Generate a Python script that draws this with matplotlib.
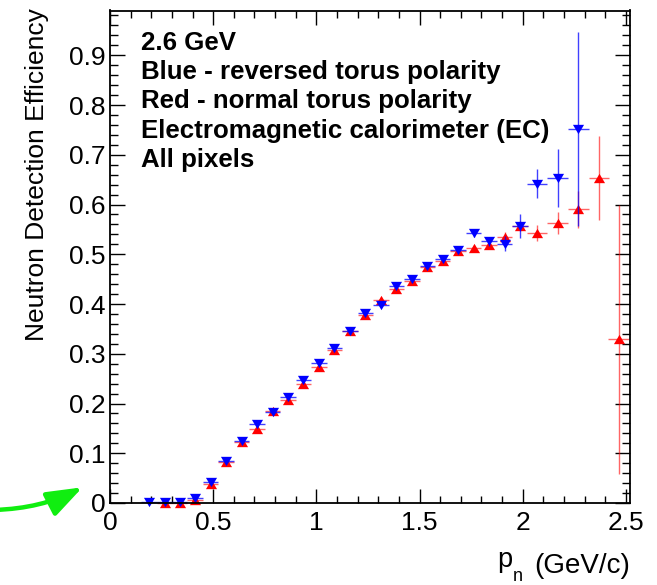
import numpy as np
import matplotlib
matplotlib.use("Agg")
import matplotlib.pyplot as plt
from matplotlib.path import Path
from matplotlib.patches import FancyArrowPatch, ArrowStyle
from matplotlib.ticker import MultipleLocator, FixedLocator

plt.rcParams["font.family"] = ["Liberation Sans", "DejaVu Sans"]

# Neutron momentum (GeV/c) of each point
p_blue = [0.19, 0.265, 0.3375, 0.4125, 0.4875, 0.5625, 0.6375, 0.7125, 0.7875,
          0.8625, 0.9375, 1.0125, 1.0875, 1.1625, 1.2375, 1.3125, 1.3875, 1.4625,
          1.5375, 1.6125, 1.6875, 1.7625, 1.8375, 1.9125, 1.9875, 2.07, 2.17, 2.27]
p_red = [0.265, 0.3375, 0.4125, 0.4875, 0.5625, 0.6375, 0.7125, 0.7875,
         0.8625, 0.9375, 1.0125, 1.0875, 1.1625, 1.2375, 1.3125, 1.3875, 1.4625,
         1.5375, 1.6125, 1.6875, 1.7625, 1.8375, 1.9125, 1.9875, 2.07, 2.17, 2.27,
         2.37, 2.465]

# Efficiency, reversed torus polarity (blue)
eff_blue = [0.002, 0.002, 0.002, 0.011, 0.043, 0.085, 0.125, 0.159, 0.183,
            0.213, 0.247, 0.281, 0.311, 0.345, 0.382, 0.399, 0.436, 0.450,
            0.477, 0.491, 0.509, 0.542, 0.526, 0.521, 0.556, 0.642, 0.654, 0.751]
err_blue = [0.002, 0.002, 0.002, 0.003, 0.004, 0.005, 0.005, 0.005, 0.005,
            0.005, 0.005, 0.005, 0.005, 0.005, 0.005, 0.005, 0.005, 0.006,
            0.006, 0.006, 0.007, 0.008, 0.009, 0.015, 0.024, 0.029, 0.058, 0.195]
bin_half_blue = [0.0375] * 25 + [0.05] * 3

# Efficiency, normal torus polarity (red)
eff_red = [0.0, 0.0, 0.006, 0.038, 0.083, 0.122, 0.148, 0.185,
           0.208, 0.240, 0.274, 0.307, 0.346, 0.378, 0.409, 0.431, 0.446,
           0.475, 0.487, 0.507, 0.512, 0.519, 0.535, 0.557, 0.543, 0.563, 0.590,
           0.653, 0.329]
err_red = [0.002, 0.002, 0.003, 0.004, 0.005, 0.005, 0.005, 0.005,
           0.005, 0.005, 0.005, 0.005, 0.005, 0.005, 0.005, 0.005, 0.006,
           0.006, 0.006, 0.007, 0.007, 0.008, 0.009, 0.010, 0.016, 0.022, 0.037,
           0.084, 0.270]
bin_half_red = [0.0375] * 24 + [0.05] * 5

x_ticks = [0, 0.5, 1, 1.5, 2, 2.5]
x_tick_labels = ["0", "0.5", "1", "1.5", "2", "2.5"]
y_ticks = [0, 0.1, 0.2, 0.3, 0.4, 0.5, 0.6, 0.7, 0.8, 0.9]
y_tick_labels = ["0", "0.1", "0.2", "0.3", "0.4", "0.5", "0.6", "0.7", "0.8", "0.9"]

notes = ["2.6 GeV",
         "Blue - reversed torus polarity",
         "Red - normal torus polarity",
         "Electromagnetic calorimeter (EC)",
         "All pixels"]

W, H = 657, 585
fig = plt.figure(figsize=(W / 100, H / 100), dpi=100)
ax = fig.add_axes([110 / W, 1 - 503 / H, 520 / W, 492.5 / H])
ax.set_xlim(0, 2.52)
ax.set_ylim(0, 0.99)

# triangle markers, slightly flattened
tri_up = Path([(-1, -0.84), (1, -0.84), (0, 0.84), (-1, -0.84)],
              [Path.MOVETO, Path.LINETO, Path.LINETO, Path.CLOSEPOLY])
tri_dn = Path([(-1, 0.84), (1, 0.84), (0, -0.84), (-1, 0.84)],
              [Path.MOVETO, Path.LINETO, Path.LINETO, Path.CLOSEPOLY])

red = "#ff0000"
blue = "#0000ff"

ax.errorbar(p_red, eff_red, xerr=bin_half_red, yerr=err_red, fmt="none",
            ecolor=red, elinewidth=1.0, alpha=0.6, capsize=0, clip_on=False)
ax.plot(p_red, eff_red, linestyle="none", marker=tri_up, markersize=8,
        color=red, markeredgewidth=0, clip_on=False)
ax.errorbar(p_blue, eff_blue, xerr=bin_half_blue, yerr=err_blue, fmt="none",
            ecolor=blue, elinewidth=1.0, alpha=0.75, capsize=0, clip_on=False)
ax.plot(p_blue, eff_blue, linestyle="none", marker=tri_dn, markersize=8,
        color=blue, markeredgewidth=0, clip_on=False)

for s in ax.spines.values():
    s.set_linewidth(1.3)

ax.xaxis.set_major_locator(FixedLocator(x_ticks))
ax.set_xticklabels(x_tick_labels)
ax.xaxis.set_minor_locator(MultipleLocator(0.1))
ax.yaxis.set_major_locator(FixedLocator(y_ticks))
ax.set_yticklabels(y_tick_labels)
ax.yaxis.set_minor_locator(MultipleLocator(0.02))

ax.tick_params(axis="both", which="both", direction="in", top=True, right=True,
               width=1.0, labelsize=19)
ax.tick_params(axis="x", which="major", length=10, pad=6)
ax.tick_params(axis="x", which="minor", length=5)
ax.tick_params(axis="y", which="major", length=11, pad=3)
ax.tick_params(axis="y", which="minor", length=5.5)

# axis titles
fig.text(37 / W, 1 - 8 / H, "Neutron Detection Efficiency", rotation=90,
         ha="center", va="top", fontsize=19)
fig.text(630 / W, 1 - 573 / H, "(GeV/c)", ha="right", va="baseline", fontsize=20)
fig.text(497 / W, 1 - 567 / H, "p", ha="left", va="baseline", fontsize=19.5)
fig.text(513 / W, 1 - 581 / H, "n", ha="left", va="baseline", fontsize=13)

# run description
baselines = [49.5, 79, 108, 137.5, 166.5]
for line, yb in zip(notes, baselines):
    fig.text(141 / W, 1 - yb / H, line, ha="left", va="baseline",
             fontsize=18.6, fontweight="bold")

# green pointer at the origin
arrow = FancyArrowPatch((-8 / W, 1 - 510 / H), (85 / W, 1 - 486 / H),
                        transform=fig.transFigure,
                        connectionstyle="arc3,rad=0.12",
                        arrowstyle=ArrowStyle("-|>", head_length=1.8, head_width=0.65),
                        mutation_scale=12, color="#10ee10", linewidth=3.2)
fig.patches.append(arrow)

fig.savefig("out.png", dpi=100)
